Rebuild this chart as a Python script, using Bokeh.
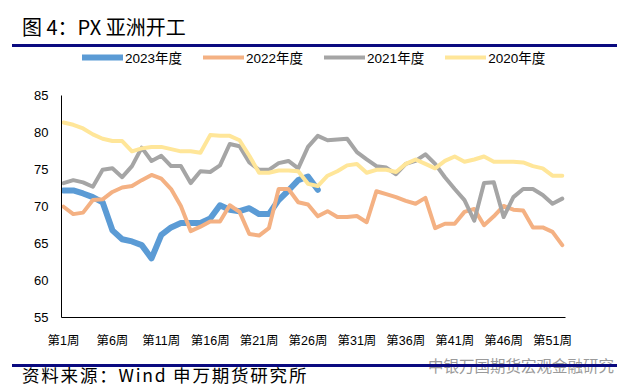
from bokeh.plotting import figure
from bokeh.models import Range1d, FixedTicker, Legend, LegendItem, Div
from bokeh.layouts import column
from bokeh.embed import file_html
from bokeh.resources import INLINE

weeks = list(range(1, 53))

s2023 = [72.2, 72.2, 71.8, 71.3, 70.6, 66.8, 65.6, 65.3, 64.8, 63.0,
         66.2, 67.2, 67.8, 67.8, 67.8, 68.4, 70.2, 69.6, 69.4, 69.8,
         69.0, 69.0, 70.9, 72.2, 73.6, 74.1, 72.3]

s2022 = [70.0, 69.0, 69.2, 70.9, 71.0, 72.0, 72.6, 72.8, 73.6, 74.3,
         73.8, 72.4, 70.1, 66.7, 67.3, 68.0, 68.0, 70.2, 69.3, 66.3,
         66.1, 67.1, 72.4, 72.4, 70.6, 70.3, 68.7, 69.4, 68.6, 68.6,
         68.75, 67.9, 72.1, 71.7, 71.3, 70.8, 70.4, 71.2, 67.1, 67.7,
         67.7, 69.3, 69.7, 67.5, 68.7, 70.1, 69.6, 69.5, 67.2, 67.2,
         66.6, 64.8]

s2021 = [73.2, 73.6, 73.3, 72.7, 75.0, 75.2, 74.0, 75.5, 78.0, 76.2,
         76.9, 75.5, 75.5, 73.2, 74.8, 74.7, 75.6, 78.5, 78.2, 76.0,
         75.0, 75.0, 75.9, 76.2, 75.2, 78.1, 79.6, 79.0, 79.1, 79.2,
         77.4, 76.4, 75.5, 75.3, 74.4, 75.8, 76.2, 77.1, 75.8, 74.0,
         72.4, 70.9, 68.1, 73.2, 73.3, 68.6, 71.3, 72.4, 72.4, 71.6,
         70.4, 71.1]

s2020 = [81.4, 81.1, 80.6, 79.8, 79.2, 78.9, 78.9, 77.5, 77.9, 78.1,
         78.1, 77.8, 77.5, 77.5, 77.3, 79.7, 79.6, 79.6, 79.0, 76.9,
         74.6, 74.6, 74.9, 74.9, 74.8, 73.1, 72.8, 74.2, 74.8, 75.6,
         75.8, 74.6, 75.0, 75.0, 74.7, 75.8, 76.4, 75.8, 75.2, 76.2,
         76.8, 76.1, 76.4, 76.8, 76.1, 76.1, 76.1, 76.0, 75.5, 75.2,
         74.2, 74.2]

series_names = ["2023年度", "2022年度", "2021年度", "2020年度"]
tick_weeks = [1, 6, 11, 16, 21, 26, 31, 36, 41, 46, 51]
tick_labels = ["第1周", "第6周", "第11周", "第16周", "第21周", "第26周",
               "第31周", "第36周", "第41周", "第46周", "第51周"]
y_ticks = [55, 60, 65, 70, 75, 80, 85]

title_text = "图 4：PX 亚洲开工"
source_text = "资料来源：Wind 申万期货研究所"
watermark_text = "中银万国期货宏观金融研究"

LATIN = "'Liberation Sans', 'Noto Sans CJK SC', sans-serif"
CJK = "'Noto Sans CJK SC', sans-serif"
NAVY = "#0A0A80"

title_div = Div(width=630, height=47, margin=0, text=(
    f"<div style=\"position:relative;width:630px;height:47px;\">"
    f"<div style=\"position:absolute;left:22px;top:0px;height:54px;line-height:54px;"
    f"font-family:{CJK};font-size:20px;color:#000;white-space:nowrap;\">{title_text}</div>"
    f"<div style=\"position:absolute;left:12px;top:44px;width:605px;height:2.5px;"
    f"background-color:{NAVY};\"></div>"
    f"</div>"))

# frame spans from the top of the figure (page y 47) to the x axis (page y 320);
# the area above 85 holds the legend, the y axis line is bounded to 55..85
p = figure(width=630, height=303, output_backend="svg", toolbar_location=None,
           x_range=Range1d(0.795, 52.33), y_range=Range1d(55, 91.5625),
           min_border_left=61, min_border_right=65, min_border_top=0,
           min_border_bottom=30, margin=0)
p.outline_line_color = None
p.grid.visible = False
p.background_fill_color = "white"
p.border_fill_color = "white"

p.xaxis.ticker = FixedTicker(ticks=tick_weeks)
p.xaxis.major_label_overrides = dict(zip(tick_weeks, tick_labels))
p.yaxis.ticker = FixedTicker(ticks=y_ticks)
p.yaxis.bounds = (55, 85)
for ax in (p.xaxis, p.yaxis):
    ax.axis_line_color = "black"
    ax.axis_line_width = 1
    ax.major_tick_line_color = None
    ax.minor_tick_line_color = None
    ax.major_label_text_color = "black"
    ax.major_label_text_font = LATIN
p.xaxis.major_label_text_font_size = "12.5px"
p.yaxis.major_label_text_font_size = "13px"
p.xaxis.major_label_standoff = 10
p.yaxis.major_label_standoff = 7

colors = ["#5B9BD5", "#F4B183", "#A5A5A5", "#FFE699"]
widths = [6, 4, 4, 4]
data = [s2023, s2022, s2021, s2020]
renderers = []
for vals, c, w in zip(data, colors, widths):
    r = p.line(weeks[:len(vals)], vals, line_color=c, line_width=w,
               line_cap="round", line_join="round")
    renderers.append(r)

legend = Legend(items=[LegendItem(label=n, renderers=[r]) for n, r in zip(series_names, renderers)],
                orientation="horizontal", location=(21, 250),
                border_line_color=None, background_fill_alpha=0,
                padding=0, margin=0, spacing=21, glyph_width=41, glyph_height=16,
                label_height=16, label_standoff=2,
                label_text_font=LATIN, label_text_font_size="13.5px",
                label_text_color="black")
p.add_layout(legend, "center")

footer_div = Div(width=630, height=37, margin=0, styles={"z-index": "10"}, text=(
    f"<div style=\"position:relative;width:630px;height:37px;z-index:10;\">"
    f"<div style=\"position:absolute;left:428px;top:6px;font-family:{CJK};font-size:15.5px;"
    f"line-height:18px;color:#9a9a9a;white-space:nowrap;\">{watermark_text}</div>"
    f"<div style=\"position:absolute;left:22px;top:16px;font-family:{CJK};font-size:17.5px;"
    f"letter-spacing:1.8px;line-height:18px;color:#000;white-space:nowrap;\">{source_text}</div>"
    f"<div style=\"position:absolute;left:12px;top:14px;width:605px;height:2.5px;"
    f"background-color:{NAVY};z-index:20;\"></div>"
    f"</div>"))

layout = column(title_div, p, footer_div, spacing=0)

open("out.html", "w").write(file_html(layout, INLINE))
